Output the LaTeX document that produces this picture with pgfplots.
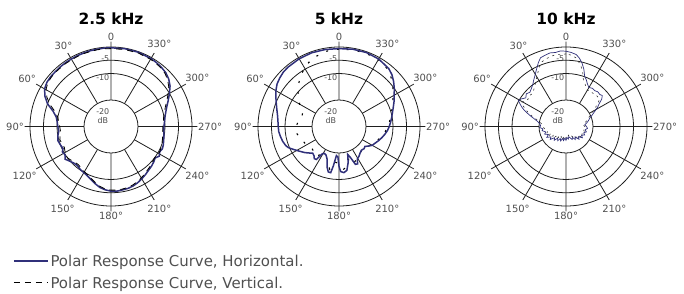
\documentclass[border=0pt]{standalone}
\usepackage{fontspec}
\setmainfont{DejaVu Sans}
\usepackage{pgfplots}
\usepackage{pgfplotstable}
\pgfplotsset{compat=1.18}
\usepgfplotslibrary{polar}
\definecolor{hcol}{RGB}{48,48,122}
\definecolor{lblgray}{RGB}{80,80,80}
\definecolor{gridc}{RGB}{30,30,30}

% angle a measured from the front (top), counter-clockwise; h, v in dB
\pgfplotstableread{
a h v
0 -0.3 -0.6
5 -0.3 -0.6
10 -0.4 -0.6
15 -0.4 -0.7
20 -0.5 -0.7
25 -0.5 -0.8
30 -0.6 -0.9
35 -0.6 -0.9
40 -0.7 -1.0
45 -0.8 -1.0
50 -0.8 -1.1
55 -1.0 -1.4
60 -1.6 -2.2
65 -3.0 -3.8
70 -5.0 -6.0
75 -7.8 -8.6
80 -9.4 -10.0
85 -10.0 -10.6
90 -10.3 -11.0
95 -10.6 -11.2
100 -10.0 -10.8
105 -9.6 -10.4
110 -10.0 -10.8
115 -10.4 -11.0
118 -9.6 -10.6
122 -9.9 -10.4
126 -9.0 -10.0
130 -9.8 -10.4
135 -10.5 -11.0
140 -10.7 -11.2
145 -10.2 -10.8
150 -9.9 -10.3
155 -9.4 -9.8
160 -8.6 -9.0
165 -7.6 -8.0
170 -6.6 -7.0
175 -6.0 -6.3
180 -5.6 -6.0
185 -5.5 -5.9
190 -5.7 -6.0
195 -5.8 -6.2
200 -6.1 -6.5
205 -6.6 -7.0
210 -7.2 -7.6
215 -7.8 -8.2
220 -8.4 -8.8
225 -8.8 -9.2
230 -9.3 -9.7
234 -9.8 -10.0
238 -8.9 -9.7
242 -9.6 -9.6
246 -9.2 -9.8
250 -9.4 -10.0
255 -9.8 -10.3
260 -10.1 -10.6
265 -10.4 -10.8
270 -10.4 -10.8
275 -10.1 -10.5
280 -9.7 -10.2
285 -9.0 -9.5
290 -8.0 -8.6
295 -6.6 -7.2
300 -5.0 -5.6
305 -3.3 -3.9
310 -2.1 -2.6
315 -1.3 -1.7
320 -0.9 -1.2
325 -0.6 -0.9
330 -0.4 -0.7
340 -0.2 -0.5
350 -0.2 -0.5
360 -0.3 -0.6
}\dataA

\pgfplotstableread{
a h
0 -0.6
10 -0.5
20 -0.4
30 -0.5
40 -0.7
45 -0.9
50 -1.4
55 -2.0
60 -3.0
65 -4.2
70 -5.3
75 -6.2
80 -6.9
85 -7.3
90 -7.5
95 -7.6
100 -8.0
105 -8.4
110 -9.0
113 -9.6
117 -11.0
122 -12.5
128 -14.0
133 -15.3
136 -16.0
140 -15.6
143 -14.8
146 -15.0
149 -18.0
152 -18.5
156 -18.2
160 -17.0
164 -14.0
167 -12.4
170 -12.3
172 -15.0
175 -19.0
178 -18.5
180 -15.0
182 -13.0
186 -12.5
190 -13.2
194 -16.0
197 -19.0
200 -17.5
203 -14.5
206 -14.3
209 -16.0
213 -16.5
218 -17.3
223 -17.8
228 -17.5
232 -17.8
236 -16.8
240 -15.8
245 -15.2
250 -14.4
255 -13.6
260 -12.8
265 -12.0
270 -11.4
275 -10.8
280 -10.2
285 -9.5
290 -8.6
295 -7.5
300 -6.4
305 -5.0
310 -3.6
315 -2.3
320 -1.4
330 -0.6
340 -0.3
350 -0.4
360 -0.6
}\dataBh

\pgfplotstableread{
a v
0 -0.8
10 -1.2
20 -2.4
25 -3.4
30 -4.5
35 -5.8
40 -7.2
45 -8.6
50 -10.2
55 -11.8
60 -13.2
65 -14.5
70 -15.6
75 -15.8
80 -15.3
85 -14.6
90 -14.1
95 -13.9
100 -14.2
105 -14.8
110 -15.4
115 -15.8
120 -16.0
125 -16.4
130 -17.0
136 -16.6
142 -15.8
148 -17.5
155 -18.6
162 -16.0
168 -13.5
174 -16.5
180 -16.0
186 -13.8
192 -14.6
198 -18.0
204 -15.5
210 -16.4
220 -17.5
230 -17.6
240 -16.2
250 -14.8
260 -13.2
270 -11.8
280 -10.6
290 -9.0
300 -6.8
310 -4.0
320 -1.8
330 -0.9
340 -0.6
350 -0.6
360 -0.8
}\dataBv

\pgfplotstableread{
a h v
0 -1.6 -2.6
4 -1.4 -2.8
8 -1.8 -2.6
12 -1.6 -3.0
16 -2.0 -3.4
20 -2.4 -4.0
23 -3.8 -5.2
26 -5.4 -6.6
29 -6.8 -8.0
32 -8.0 -9.2
35 -9.0 -10.2
38 -10.0 -11.0
42 -10.8 -12.0
46 -11.4 -12.4
50 -10.8 -12.0
54 -11.6 -12.6
58 -10.4 -11.8
61 -9.8 -11.2
64 -11.2 -12.4
67 -12.6 -13.8
70 -14.4 -15.4
73 -16.2 -17.0
76 -17.8 -18.6
80 -19.4 -20.0
84 -20.2 -21.0
88 -20.6 -21.2
92 -20.2 -21.6
96 -21.4 -22.0
100 -21.0 -22.6
105 -22.2 -23.0
110 -21.6 -22.4
115 -22.8 -23.6
120 -21.8 -22.8
125 -23.2 -24.2
130 -22.4 -23.4
135 -24.0 -24.8
140 -23.2 -24.0
145 -24.6 -25.2
150 -23.8 -24.6
155 -25.0 -25.8
160 -24.2 -25.0
165 -25.4 -26.0
170 -24.6 -25.2
175 -25.6 -26.2
180 -24.8 -25.6
185 -25.8 -26.4
190 -25.2 -25.8
195 -26.0 -26.6
200 -25.4 -26.0
205 -24.6 -25.4
210 -25.2 -25.8
215 -24.0 -25.0
220 -24.8 -25.4
225 -23.2 -24.0
230 -24.0 -24.6
235 -22.6 -23.4
240 -23.4 -24.2
245 -22.4 -23.2
250 -23.0 -23.8
255 -22.2 -23.0
260 -22.8 -23.4
265 -22.0 -22.8
270 -22.4 -23.0
275 -23.0 -23.6
280 -22.2 -23.0
285 -21.4 -22.2
290 -20.6 -21.4
294 -19.4 -20.4
298 -18.0 -19.2
302 -16.2 -17.4
305 -15.0 -16.2
308 -13.2 -14.6
311 -12.2 -13.6
314 -12.6 -13.8
318 -12.4 -13.6
322 -12.8 -14.0
326 -12.6 -13.8
330 -13.0 -14.2
334 -12.0 -13.2
337 -10.8 -12.2
340 -9.8 -11.2
343 -7.4 -8.8
346 -5.4 -6.8
349 -3.8 -5.2
352 -2.6 -3.8
356 -2.0 -3.0
360 -1.6 -2.6
}\dataC

\pgfplotsset{
  polstyle/.style={
    scale only axis,
    width=172.8bp, height=169.6bp,
    anchor=center,
    xmin=0, xmax=360, ymin=0, ymax=32,
    xtick={0,30,...,330},
    xticklabels={270°,300°,330°,0,30°,60°,90°,120°,150°,180°,210°,240°},
    ytick={20,25,30},
    yticklabels={},
    xmajorgrids, ymajorgrids,
    grid style={gridc, line width=0.8bp},
    axis line style={draw=none},
    major tick length=0pt,
    clip=false,
    xticklabel style={font=\fontsize{10}{12}\selectfont, text=lblgray, inner sep=0.5bp},
    title style={font=\fontsize{15.5}{18}\selectfont\bfseries, at={(0.5,1)}, anchor=center, yshift=9bp},
  },
}

\newcommand{\innerdisc}{%
  \addplot[gridc, line width=0.8bp, fill=white, forget plot] coordinates {
    (0,10) (10,10) (20,10) (30,10) (40,10) (50,10) (60,10) (70,10) (80,10)
    (90,10) (100,10) (110,10) (120,10) (130,10) (140,10) (150,10) (160,10)
    (170,10) (180,10) (190,10) (200,10) (210,10) (220,10) (230,10) (240,10)
    (250,10) (260,10) (270,10) (280,10) (290,10) (300,10) (310,10) (320,10)
    (330,10) (340,10) (350,10) (360,10)};
  \node[font=\fontsize{8}{9}\selectfont, text=lblgray, anchor=east, inner sep=0.5bp, xshift=-1bp, yshift=2bp] at (axis cs:90,25) {-5};
  \node[font=\fontsize{8}{9}\selectfont, text=lblgray, anchor=north east, inner sep=0.5bp, xshift=-1bp] at (axis cs:90,20) {-10};
  \node[font=\fontsize{8}{8.5}\selectfont, text=lblgray, anchor=east, align=center, inner sep=0.5bp, xshift=-1bp] at (axis cs:90,4) {-20\\dB};
}

\begin{document}
\begin{tikzpicture}[x=1bp,y=1bp]
\useasboundingbox (0,0) rectangle (684,293);

\begin{polaraxis}[polstyle, at={(111bp,166.5bp)}, title={2.5 kHz},
  legend style={at={(axis description cs:-0.0671,-0.2636)}, anchor=north west,
    draw=none, fill=none, inner sep=0pt, outer sep=0pt,
    font=\fontsize{15}{17}\selectfont, text=lblgray,
    row sep=8bp, column sep=2bp,
    nodes={inner sep=0pt, text height=10.5bp, text depth=3bp}},
  legend cell align=left,
  legend image code/.code={\draw[#1] (0bp,1.8bp) -- (34bp,1.8bp);}]
\innerdisc
\addplot[hcol, line width=1.5bp] table[x expr=\thisrow{a}+90, y expr=\thisrow{h}+30] {\dataA};
\addlegendentry{Polar Response Curve, Horizontal.}
\addplot[black, line width=0.8bp, dash pattern=on 6bp off 5bp] table[x expr=\thisrow{a}+90, y expr=\thisrow{v}+30] {\dataA};
\addlegendentry{Polar Response Curve, Vertical.}
\end{polaraxis}

\begin{polaraxis}[polstyle, at={(339bp,166.5bp)}, title={5 kHz}]
\innerdisc
\addplot[black, line width=1.1bp, dash pattern=on 2bp off 9bp] table[x expr=\thisrow{a}+90, y expr=\thisrow{v}+30] {\dataBv};
\addplot[hcol, line width=1.5bp] table[x expr=\thisrow{a}+90, y expr=\thisrow{h}+30] {\dataBh};
\end{polaraxis}

\begin{polaraxis}[polstyle, at={(566bp,166.5bp)}, title={10 kHz}]
\innerdisc
\addplot[black!80, line width=0.6bp, dash pattern=on 2bp off 4bp] table[x expr=\thisrow{a}+90, y expr=\thisrow{v}+30] {\dataC};
\addplot[hcol, line width=0.7bp] table[x expr=\thisrow{a}+90, y expr=\thisrow{h}+30] {\dataC};
\end{polaraxis}
\end{tikzpicture}
\end{document}
